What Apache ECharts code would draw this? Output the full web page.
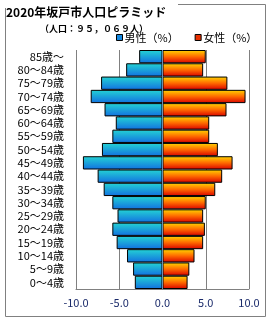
<!DOCTYPE html>
<html>
<head>
<meta charset="utf-8">
<script src="https://cdn.jsdelivr.net/npm/echarts@6/dist/echarts.min.js"></script>
<style>
  html, body { margin: 0; padding: 0; background: #fff; }
  #chart { width: 270px; height: 320px; }
</style>
</head>
<body>
<div id="chart"></div>
<script>
// 年齢階級（上から順）
const ageGroups = ["85歳～", "80～84歳", "75～79歳", "70～74歳", "65～69歳", "60～64歳",
    "55～59歳", "50～54歳", "45～49歳", "40～44歳", "35～39歳", "30～34歳",
    "25～29歳", "20～24歳", "15～19歳", "10～14歳", "5～9歳", "0～4歳"];
// 男性（%）
const maleValues = [2.7, 4.2, 7.1, 8.3, 6.7, 5.4, 5.8, 7.0, 9.2, 7.5,
    6.8, 5.8, 5.2, 5.8, 5.3, 4.1, 3.4, 3.2];
// 女性（%）
const femaleValues = [5.0, 4.7, 7.5, 9.6, 7.4, 5.4, 5.4, 6.4, 8.1, 6.9,
    6.1, 5.0, 4.7, 4.9, 4.7, 3.7, 3.1, 2.9];
const xTicks = [-10, -5, 0, 5, 10];

const font = '"Noto Sans CJK JP", "Noto Sans", sans-serif';

const chart = echarts.init(document.getElementById('chart'));

const option = {
    animation: false,
    textStyle: { fontFamily: font },
    title: [{
        text: '2020年坂戸市人口ピラミッド',
        left: 6,
        top: 6,
        padding: 0,
        textStyle: { fontSize: 12, fontWeight: 'bold', color: '#000', fontFamily: font }
    }, {
        text: '（人口：９５，０６９人）',
        left: 40,
        top: 24,
        padding: 0,
        textStyle: { fontSize: 9, fontWeight: 'bold', color: '#000', fontFamily: font }
    }],
    legend: {
        left: 116,
        top: 32,
        padding: 0,
        itemGap: 16,
        itemWidth: 6,
        itemHeight: 6,
        icon: 'rect',
        textStyle: { fontSize: 11, color: '#000', padding: [0, 0, 0, -3] },
        data: [
            { name: '男性（%）', itemStyle: { color: '#1488e0', borderColor: '#000', borderWidth: 1 } },
            { name: '女性（%）', itemStyle: { color: '#e83000', borderColor: '#000', borderWidth: 1 } }
        ]
    },
    graphic: [{
        type: 'polyline',
        shape: { points: [[178, 4.5], [265.5, 4.5], [265.5, 316.5], [5.5, 316.5], [5.5, 8]] },
        style: { stroke: '#808080', lineWidth: 1, fill: null },
        silent: true
    }],
    grid: {
        left: 76,
        right: 21,
        top: 50,
        bottom: 31
    },
    xAxis: {
        type: 'value',
        min: xTicks[0],
        max: xTicks[xTicks.length - 1],
        interval: 5,
        axisLine: { show: true, onZero: false, lineStyle: { color: '#808080', width: 1 } },
        axisTick: { show: false },
        axisLabel: {
            fontSize: 11,
            color: '#1a2a6a',
            margin: 8,
            formatter: v => v.toFixed(1)
        },
        splitLine: { show: true, lineStyle: { color: '#808080', width: 1 } }
    },
    yAxis: {
        type: 'category',
        inverse: true,
        data: ageGroups,
        axisLine: { show: false, onZero: false },
        axisTick: { show: false },
        axisLabel: { fontSize: 11, color: '#000', margin: 12, interval: 0 },
        splitLine: { show: false }
    },
    series: [{
        name: '男性（%）',
        type: 'bar',
        barGap: '-100%',
        barCategoryGap: '0%',
        data: maleValues.map(v => -v),
        itemStyle: {
            color: new echarts.graphic.LinearGradient(0, 0, 0, 1, [
                { offset: 0, color: '#24d4d4' },
                { offset: 1, color: '#1270e0' }
            ]),
            borderColor: '#000',
            borderWidth: 1
        },
        markLine: {
            silent: true,
            symbol: 'none',
            label: { show: false },
            lineStyle: { color: '#6a8fb0', type: 'solid', width: 1 },
            data: [{ xAxis: 0 }]
        }
    }, {
        name: '女性（%）',
        type: 'bar',
        barGap: '-100%',
        barCategoryGap: '0%',
        data: femaleValues,
        itemStyle: {
            color: new echarts.graphic.LinearGradient(0, 0, 0, 1, [
                { offset: 0, color: '#ffd800' },
                { offset: 0.5, color: '#ff6a00' },
                { offset: 1, color: '#d80000' }
            ]),
            borderColor: '#000',
            borderWidth: 1
        }
    }]
};

chart.setOption(option);
</script>
</body>
</html>
